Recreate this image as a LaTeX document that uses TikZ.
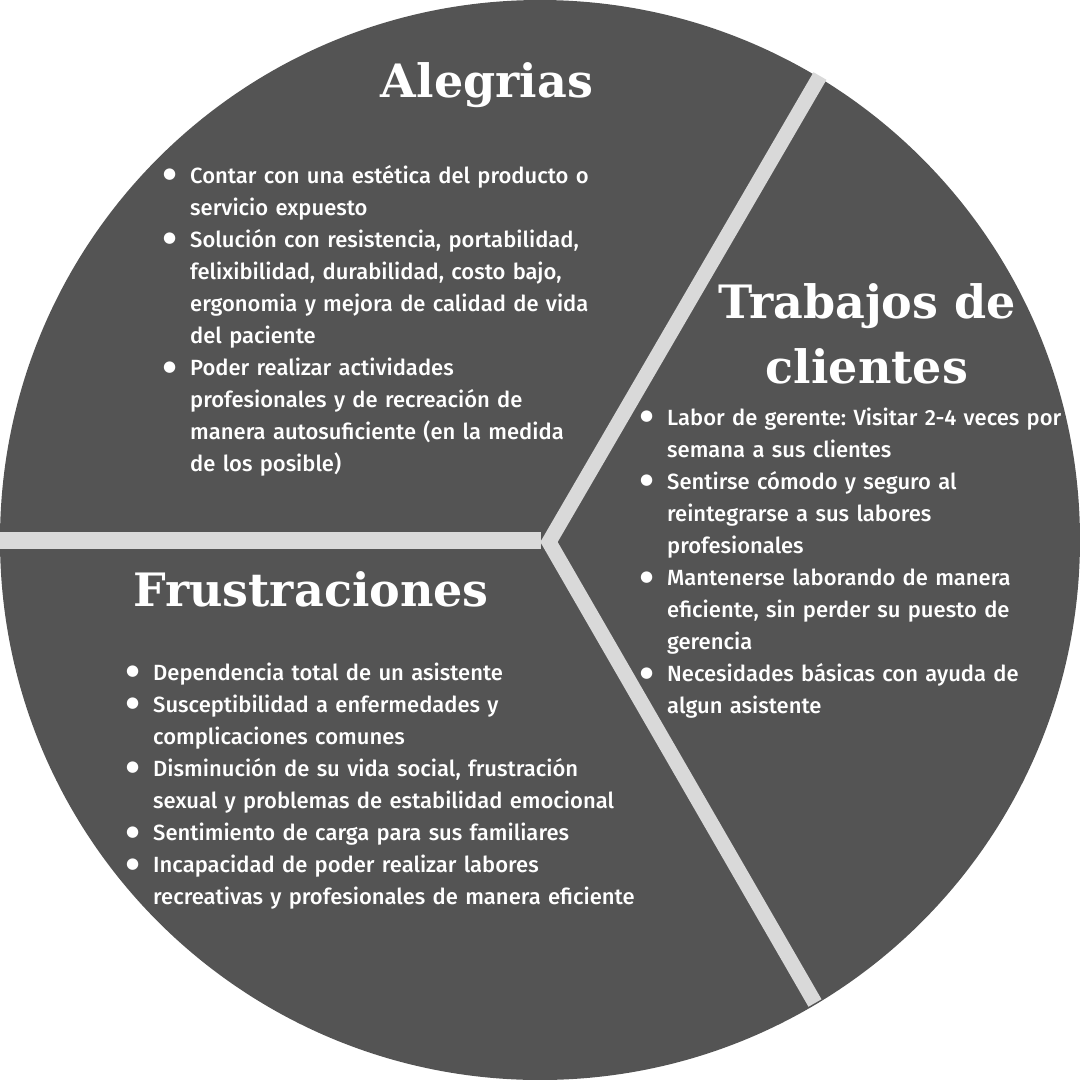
\documentclass[tikz,border=0pt]{standalone}
\usepackage{fontspec}
\setmainfont{Fira Sans}[UprightFont={* Medium}]
\newfontfamily\titlefont{DejaVu Serif}
\newfontfamily\symfont{DejaVu Sans}
\definecolor{panel}{HTML}{545454}
\definecolor{divider}{HTML}{D9D9D9}
\frenchspacing
\newcommand\bl{\makebox[0pt][r]{\raisebox{4.5pt}{\symfont\fontsize{15}{15}\selectfont ●}\hspace{14pt}}}
\tikzset{
  title/.style={text=white, font=\titlefont\bfseries\fontsize{46}{65}\selectfont, inner sep=0pt, anchor=base, align=center},
  listtext/.style={text=white, font=\fontsize{22}{32.1}\selectfont, inner sep=0pt, anchor=base west, text width=540pt, align=left},
  divline/.style={draw=divider, line width=15pt, line cap=butt}
}
\begin{document}
\begin{tikzpicture}[x=1pt,y=-1pt]
\useasboundingbox (0,0) rectangle (1080,1080);
\fill[panel] (540,540) circle (540pt);
\coordinate (leftEnd) at (0,540.5);
\coordinate (hub) at (541,540.5);
\coordinate (vtx) at (549,542);
\coordinate (topEnd) at (820,76);
\coordinate (botEnd) at (815,1003);
\draw[divline, line width=17pt] (leftEnd) -- (hub);
\draw[divline, miter limit=10] (topEnd) -- (vtx) -- (botEnd);

\node[title] (tAlegrias) at (487,97) {Alegrias};
\node[title] (tTrabajos) at (867,383) {Trabajos de\\clientes};
\node[title] (tFrustra) at (311,606) {Frustraciones};

\node[listtext] (lAlegrias) at (190,183) {\bl Contar con una estética del producto o\\
servicio expuesto\\
\bl Solución con resistencia, portabilidad,\\
felixibilidad, durabilidad, costo bajo,\\
ergonomia y mejora de calidad de vida\\
del paciente\\
\bl Poder realizar actividades\\
profesionales y de recreación de\\
manera autosuficiente (en la medida\\
de los posible)};

\node[listtext] (lTrabajos) at (667,425) {\bl Labor de gerente: Visitar 2-4 veces por\\
semana a sus clientes\\
\bl Sentirse cómodo y seguro al\\
reintegrarse a sus labores\\
profesionales\\
\bl Mantenerse laborando de manera\\
eficiente, sin perder su puesto de\\
gerencia\\
\bl Necesidades básicas con ayuda de\\
algun asistente};

\node[listtext] (lFrustra) at (153,680) {\bl Dependencia total de un asistente\\
\bl Susceptibilidad a enfermedades y\\
complicaciones comunes\\
\bl Disminución de su vida social, frustración\\
sexual y problemas de estabilidad emocional\\
\bl Sentimiento de carga para sus familiares\\
\bl Incapacidad de poder realizar labores\\
recreativas y profesionales de manera eficiente};
\end{tikzpicture}
\end{document}
